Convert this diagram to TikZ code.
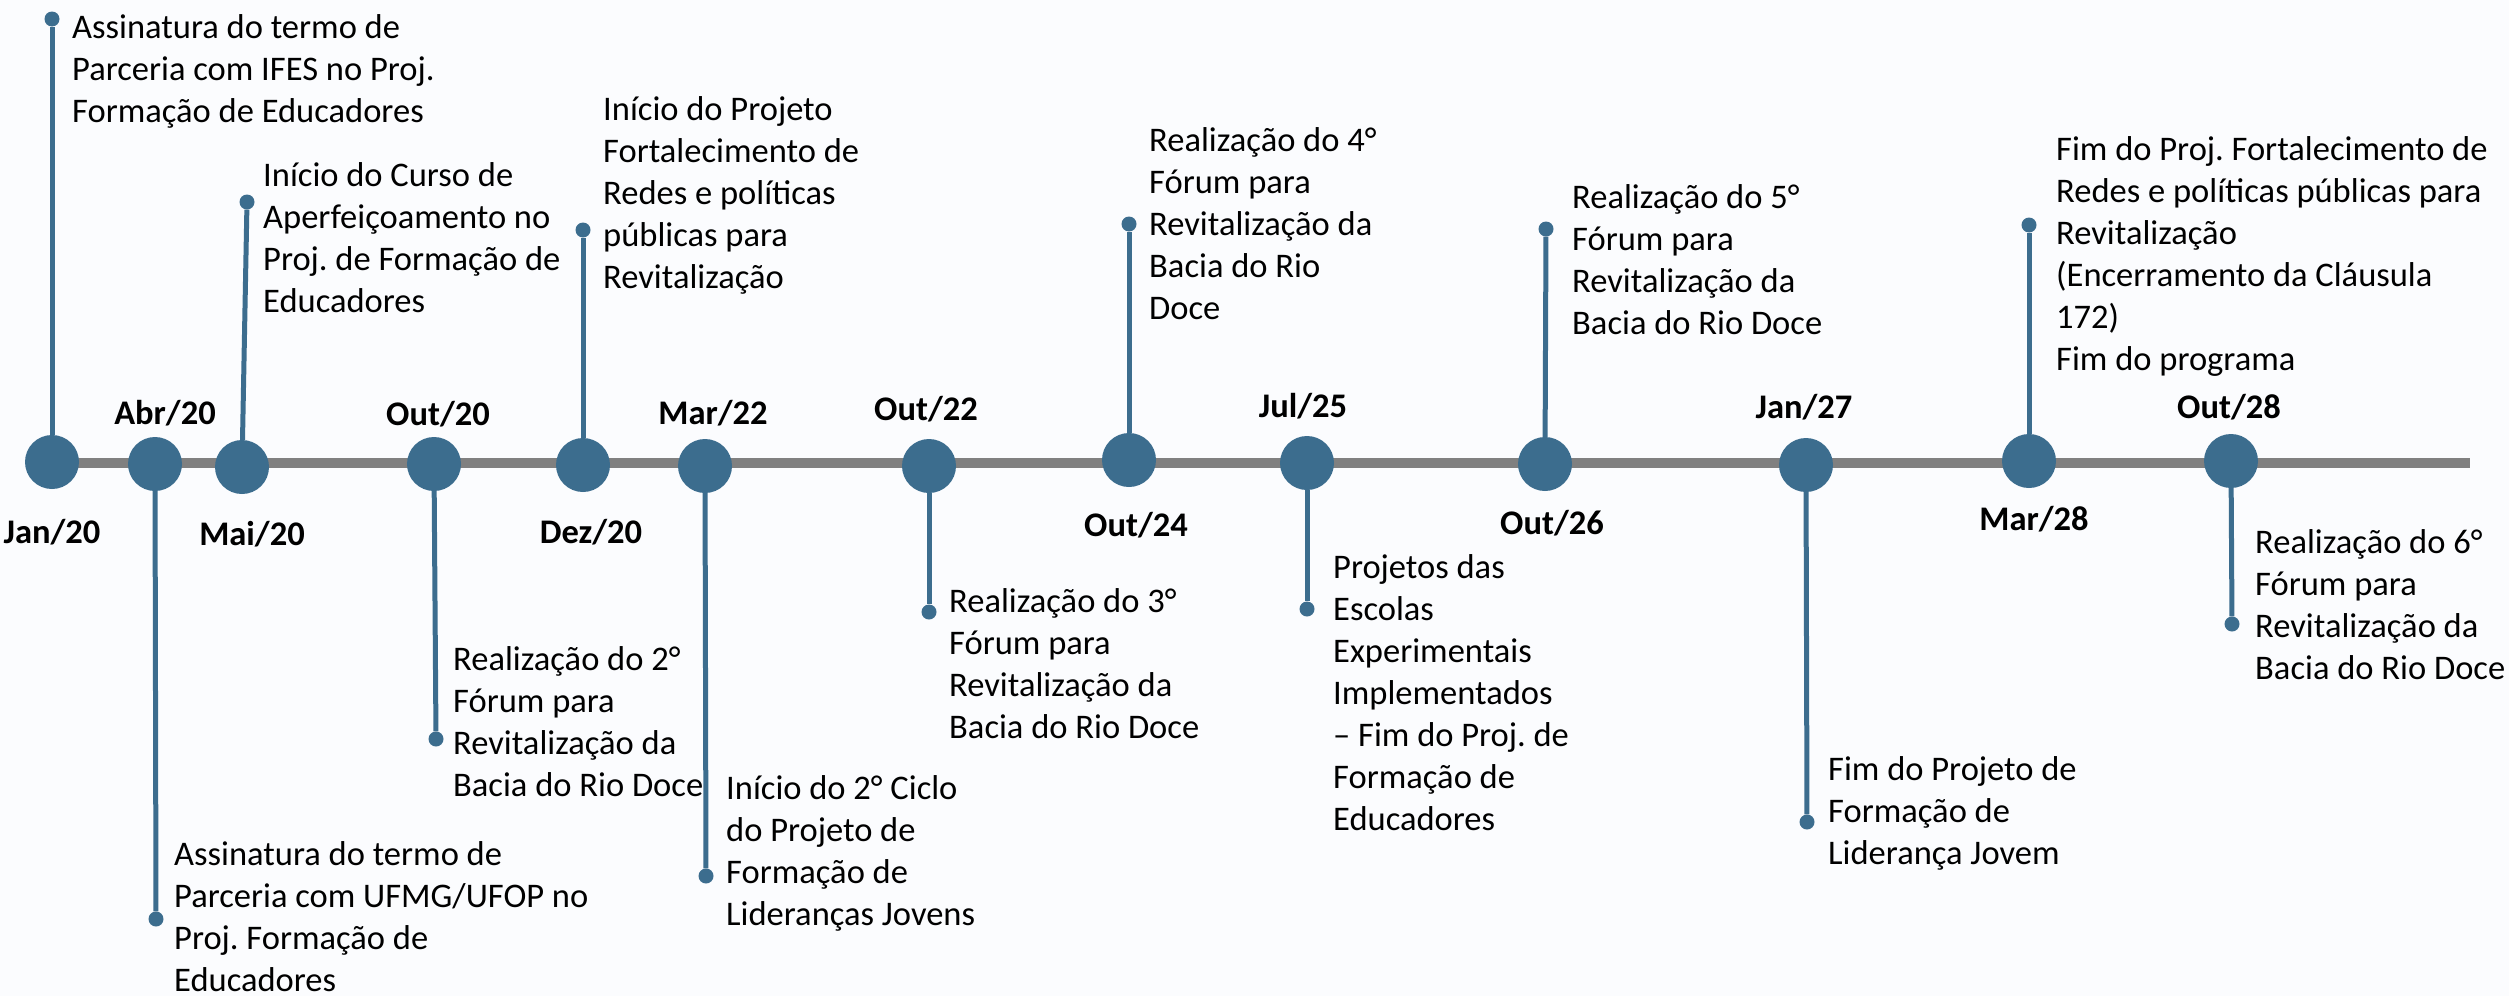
\documentclass[tikz,border=0pt]{standalone}
\usepackage{fontspec}
\usepackage{xcolor}
\setmainfont{Carlito}
\frenchspacing

\definecolor{tlblue}{RGB}{60,109,142}
\definecolor{tlgray}{RGB}{128,128,128}
\definecolor{tlbg}{RGB}{251,252,254}

\begin{document}
\begin{tikzpicture}[x=1pt,y=-1pt,
   milestone/.style={circle,fill=tlblue,minimum size=54pt,inner sep=0pt},
   tip/.style={circle,fill=tlblue,minimum size=15pt,inner sep=0pt},
   stem/.style={draw=tlblue,line width=5pt},
   axis/.style={draw=tlgray,line width=10pt},
   datelbl/.style={font=\fontsize{34.5}{42}\selectfont\bfseries,anchor=base,inner sep=0pt},
   event/.style={font=\fontsize{34.5}{42}\selectfont\frenchspacing,align=left,anchor=base west,inner sep=0pt}]
   \fill[tlbg] (0,0) rectangle (2509,996);
   \useasboundingbox (0,0) rectangle (2509,996);
   % the time axis
   \coordinate (start) at (52,463);
   \coordinate (finish) at (2470,463);
   \path[axis] (start) -- (finish);
   % milestones on the axis
   \node[milestone] (jan20) at (52,462) {};
   \node[milestone] (abr20) at (155,464) {};
   \node[milestone] (mai20) at (242,467) {};
   \node[milestone] (out20) at (434,464) {};
   \node[milestone] (dez20) at (583,465) {};
   \node[milestone] (mar22) at (705,466) {};
   \node[milestone] (out22) at (929,466) {};
   \node[milestone] (out24) at (1129,460) {};
   \node[milestone] (jul25) at (1307,463) {};
   \node[milestone] (out26) at (1545,464) {};
   \node[milestone] (jan27) at (1806,465) {};
   \node[milestone] (mar28) at (2029,461) {};
   \node[milestone] (out28) at (2231,461) {};
   % dates
   \node[datelbl] (d_jan20) at (52,543) {Jan/20};
   \node[datelbl] (d_abr20) at (165,424) {Abr/20};
   \node[datelbl] (d_mai20) at (252,545) {Mai/20};
   \node[datelbl] (d_out20) at (438,425) {Out/20};
   \node[datelbl] (d_dez20) at (591,543) {Dez/20};
   \node[datelbl] (d_mar22) at (713,424) {Mar/22};
   \node[datelbl] (d_out22) at (926,420) {Out/22};
   \node[datelbl] (d_out24) at (1136,536) {Out/24};
   \node[datelbl] (d_jul25) at (1303,417) {Jul/25};
   \node[datelbl] (d_out26) at (1552,534) {Out/26};
   \node[datelbl] (d_jan27) at (1804,418) {Jan/27};
   \node[datelbl] (d_mar28) at (2034,530) {Mar/28};
   \node[datelbl] (d_out28) at (2229,418) {Out/28};
   % stem ends
   \node[tip] (t_jan20) at (52,19) {};
   \node[tip] (t_abr20) at (156,919) {};
   \node[tip] (t_mai20) at (247,202) {};
   \node[tip] (t_out20) at (436,739) {};
   \node[tip] (t_dez20) at (583,230) {};
   \node[tip] (t_mar22) at (706,876) {};
   \node[tip] (t_out22) at (929,612) {};
   \node[tip] (t_out24) at (1129,224) {};
   \node[tip] (t_jul25) at (1307,609) {};
   \node[tip] (t_out26) at (1546,229) {};
   \node[tip] (t_jan27) at (1807,822) {};
   \node[tip] (t_mar28) at (2029,225) {};
   \node[tip] (t_out28) at (2232,624) {};
   \path[stem]
    (jan20) edge (t_jan20)
    (abr20) edge (t_abr20)
    (mai20) edge (t_mai20)
    (out20) edge (t_out20)
    (dez20) edge (t_dez20)
    (mar22) edge (t_mar22)
    (out22) edge (t_out22)
    (out24) edge (t_out24)
    (jul25) edge (t_jul25)
    (out26) edge (t_out26)
    (jan27) edge (t_jan27)
    (mar28) edge (t_mar28)
    (out28) edge (t_out28);
   % events (placed at the baseline of their last line)
   \node[event] (e_jan20) at (72,122) {Assinatura do termo de\\Parceria com IFES no Proj.\\Formação de Educadores};
   \node[event] (e_abr20) at (174,991) {Assinatura do termo de\\Parceria com UFMG/UFOP no\\Proj. Formação de\\Educadores};
   \node[event] (e_mai20) at (263,312) {Início do Curso de\\Aperfeiçoamento no\\Proj. de Formação de\\Educadores};
   \node[event] (e_out20) at (453,796) {Realização do 2°\\Fórum para\\Revitalização da\\Bacia do Rio Doce};
   \node[event] (e_dez20) at (603,288) {Início do Projeto\\Fortalecimento de\\Redes e políticas\\públicas para\\Revitalização};
   \node[event] (e_mar22) at (726,925) {Início do 2° Ciclo\\do Projeto de\\Formação de\\Lideranças Jovens};
   \node[event] (e_out22) at (949,738) {Realização do 3°\\Fórum para\\Revitalização da\\Bacia do Rio Doce};
   \node[event] (e_out24) at (1149,319) {Realização do 4°\\Fórum para\\Revitalização da\\Bacia do Rio\\Doce};
   \node[event] (e_jul25) at (1333,830) {Projetos das\\Escolas\\Experimentais\\Implementados\\– Fim do Proj. de\\Formação de\\Educadores};
   \node[event] (e_out26) at (1572,334) {Realização do 5°\\Fórum para\\Revitalização da\\Bacia do Rio Doce};
   \node[event] (e_jan27) at (1828,864) {Fim do Projeto de\\Formação de\\Liderança Jovem};
   \node[event] (e_mar28) at (2056,370) {Fim do Proj. Fortalecimento de\\Redes e políticas públicas para\\Revitalização\\(Encerramento da Cláusula\\172)\\Fim do programa};
   \node[event] (e_out28) at (2255,679) {Realização do 6°\\Fórum para\\Revitalização da\\Bacia do Rio Doce};
\end{tikzpicture}
\end{document}
